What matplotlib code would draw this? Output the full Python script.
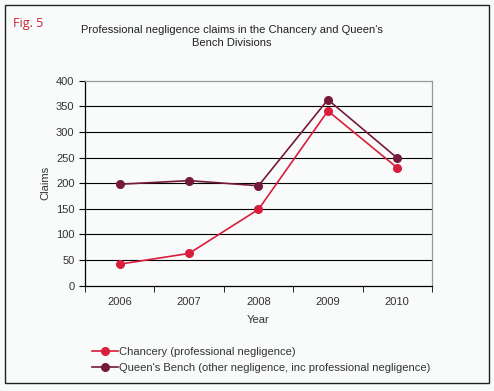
import matplotlib.pyplot as plt
from matplotlib.patches import Rectangle

# ****Data****
years = ['2006', '2007', '2008', '2009', '2010']
chancery = [42, 63, 149, 341, 230]
queens_bench = [198, 205, 195, 363, 249]
yticks = [0, 50, 100, 150, 200, 250, 300, 350, 400]

red = '#d81e3c'
maroon = '#761a3c'
bg = '#f8fbf9'

plt.rcParams['font.family'] = ['Liberation Sans', 'DejaVu Sans']

fig = plt.figure(figsize=(4.94, 3.91), dpi=100, facecolor=bg)
ax = fig.add_axes([0.172, 0.2693, 0.7025, 0.5243], facecolor=bg)

# outer frame of the figure
fig.patches.append(Rectangle((5 / 494, 1 - 383 / 391), 484 / 494, 378 / 391,
                             transform=fig.transFigure, fill=False,
                             edgecolor='#222222', linewidth=1.0))

x = range(len(years))
ax.plot(x, chancery, color=red, marker='o', markersize=5.5, linewidth=1.2,
        label='Chancery (professional negligence)', zorder=4)
ax.plot(x, queens_bench, color=maroon, marker='o', markersize=5.5, linewidth=1.2,
        label="Queen's Bench (other negligence, inc professional negligence)", zorder=3)

ax.set_xlim(-0.5, len(years) - 0.5)
ax.set_ylim(0, 400)
ax.set_yticks(yticks)
ax.set_xticks(x)
ax.set_xticklabels(years)
ax.set_xticks([i - 0.5 for i in range(len(years) + 1)], minor=True)
ax.tick_params(axis='x', which='major', length=0, pad=8, labelsize=8, colors='#333333')
ax.tick_params(axis='x', which='minor', length=4, direction='out', color='black')
ax.tick_params(axis='y', length=4, direction='out', labelsize=8, colors='#333333')
ax.tick_params(axis='y', color='black')

for y in yticks[1:-1]:
    ax.axhline(y, color='black', linewidth=0.8, zorder=1)

ax.spines['top'].set_color('#999999')
ax.spines['right'].set_color('#999999')
ax.spines['left'].set_color('black')
ax.spines['bottom'].set_color('black')
for s in ax.spines.values():
    s.set_linewidth(0.9)

ax.set_xlabel('Year', fontsize=8, color='#333333', labelpad=6)
ax.set_ylabel('Claims', fontsize=8, color='#333333', labelpad=4)

fig.text(0.47, 0.935, "Professional negligence claims in the Chancery and Queen's\nBench Divisions",
         ha='center', va='top', fontsize=8, color='#222222', linespacing=1.35)
fig.text(0.027, 0.94, 'Fig. 5', ha='left', va='center', fontsize=9, color='#c8203a',
         family=['Open Sans', 'DejaVu Sans'])

fig.legend(loc='upper left', bbox_to_anchor=(0.176, 0.127), frameon=False,
           fontsize=8, handlelength=2.3, handletextpad=0.05, labelspacing=0.55,
           labelcolor='#333333', borderpad=0)

fig.savefig('out.png', dpi=100, facecolor=bg)
